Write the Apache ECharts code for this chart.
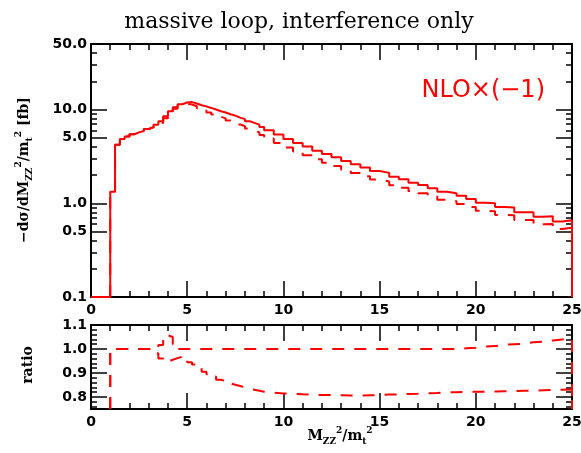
<!DOCTYPE html>
<html>
<head>
<meta charset="utf-8">
<script src="https://cdn.jsdelivr.net/npm/echarts@6/dist/echarts.min.js"></script>
<style>
html, body { margin: 0; padding: 0; background: #fff; }
#chart { width: 581px; height: 453px; }
</style>
</head>
<body>
<div id="chart"></div>
<script>
// bin edges in M_ZZ^2/m_t^2 (0.25 wide up to 9, 0.5 wide after)
const edges = [1, 1.25, 1.5, 1.75, 2, 2.25, 2.5, 2.75, 3, 3.25, 3.5, 3.75, 4, 4.25, 4.5, 4.75,
  5, 5.25, 5.5, 5.75, 6, 6.25, 6.5, 6.75, 7, 7.25, 7.5, 7.75, 8, 8.25, 8.5, 8.75, 9,
  9.5, 10, 10.5, 11, 11.5, 12, 12.5, 13, 13.5, 14, 14.5, 15, 15.5, 16, 16.5, 17,
  17.5, 18, 18.5, 19, 19.5, 20, 20.5, 21, 21.5, 22, 22.5, 23, 23.5, 24, 24.5, 25];

// -dsigma/dM^2 [fb], NLO x (-1), solid curve
const nloSolid = [1.33, 4.2, 4.85, 5.15, 5.45, 5.7, 5.9, 6.2, 6.5, 6.9, 7.5, 8.5, 9.6, 10.6, 11.4, 11.9,
  12.0, 11.6, 11.1, 10.8, 10.4, 10.0, 9.6, 9.3, 8.9, 8.6, 8.2, 7.9, 7.5, 7.2, 6.9, 6.5,
  6.0, 5.4, 4.85, 4.4, 4.02, 3.64, 3.36, 3.10, 2.83, 2.61, 2.40, 2.21, 2.11, 1.92, 1.80, 1.66,
  1.57, 1.45, 1.33, 1.28, 1.20, 1.11, 1.01, 1.0, 0.91, 0.90, 0.80, 0.80, 0.72, 0.725, 0.64, 0.66];

// dashed curve
const nloDashed = [1.33, 4.2, 4.85, 5.15, 5.45, 5.7, 5.9, 6.2, 6.47, 6.78, 7.2, 8.05, 9.17, 10.2, 11.0, 11.5,
  11.3, 10.85, 10.3, 9.77, 9.3, 8.85, 8.37, 8.05, 7.63, 7.32, 6.94, 6.64, 6.26, 5.98, 5.7, 5.34,
  4.91, 4.40, 3.94, 3.57, 3.26, 2.94, 2.71, 2.50, 2.28, 2.10, 1.94, 1.79, 1.71, 1.56, 1.46, 1.35,
  1.28, 1.18, 1.09, 1.05, 0.985, 0.912, 0.83, 0.823, 0.75, 0.743, 0.661, 0.662, 0.596, 0.601, 0.531, 0.548];

// ratio panel
const ratioUpper = [1, 1, 1, 1, 1, 1, 1, 1, 1, 1, 1.017, 1.057, 1.05, 1.02, 1, 1,
  1, 1, 1, 1, 1, 1, 1, 1, 1, 1, 1, 1, 1, 1, 1, 1,
  1, 1, 1, 1, 1, 1, 1, 1, 1, 1, 1, 1, 1, 1, 1, 1,
  1, 1, 1, 1, 1.003, 1.005, 1.01, 1.012, 1.018, 1.02, 1.022, 1.028, 1.03, 1.035, 1.04, 1.045];
const ratioLower = [1, 1, 1, 1, 1, 1, 1, 1, 0.995, 0.982, 0.96, 0.947, 0.955, 0.962, 0.968, 0.97,
  0.945, 0.935, 0.926, 0.905, 0.895, 0.885, 0.872, 0.866, 0.857, 0.851, 0.846, 0.84, 0.834, 0.83, 0.826, 0.822,
  0.818, 0.815, 0.813, 0.811, 0.81, 0.808, 0.808, 0.807, 0.806, 0.806, 0.807, 0.808, 0.81, 0.811, 0.813, 0.814,
  0.816, 0.817, 0.819, 0.82, 0.821, 0.822, 0.822, 0.823, 0.824, 0.825, 0.826, 0.827, 0.828, 0.829, 0.83, 0.831];

// tick positions
const yTopLabels = [0.1, 0.5, 1, 5, 10, 50];
const yTopMinor = [0.2, 0.3, 0.4, 0.6, 0.7, 0.8, 0.9, 2, 3, 4, 6, 7, 8, 9, 20, 30, 40];
const yRatioLabels = [0.8, 0.9, 1.0, 1.1];
const yRatioMinor = [0.76, 0.78, 0.82, 0.84, 0.86, 0.88, 0.92, 0.94, 0.96, 0.98, 1.02, 1.04, 1.06, 1.08];

const RED = '#ff0000';
const lineBlack = { color: '#000', width: 2 };
const tickBlack = { color: '#000', width: 1.5 };
const labelFont = { color: '#000', fontFamily: 'DejaVu Sans', fontWeight: 'bold', fontSize: 14 };

// histogram outline as step points
function steps(vals, floor, from) {
  const pts = [];
  if (from !== undefined) pts.push([from, floor]);
  pts.push([edges[0], floor]);
  vals.forEach((v, i) => {
    pts.push([edges[i], v], [edges[i + 1], v]);
  });
  pts.push([edges[edges.length - 1], floor]);
  return pts;
}

function xAx(gridIndex, position, showLabel) {
  return {
    type: 'value', gridIndex, position, min: 0, max: 25, interval: 5,
    axisLine: { show: true, onZero: false, lineStyle: lineBlack },
    axisTick: { show: true, inside: true, length: 16, lineStyle: tickBlack },
    minorTick: { show: true, splitNumber: 5, length: 6, lineStyle: tickBlack },
    axisLabel: Object.assign({ show: showLabel, margin: 6, showMinLabel: true, showMaxLabel: true }, labelFont),
    splitLine: { show: false }, minorSplitLine: { show: false }
  };
}

function yAx(gridIndex, type, min, max, position, ticks, len, labels, fmt) {
  return {
    type, gridIndex, position, min, max,
    axisLine: { show: len > 10, onZero: false, lineStyle: lineBlack },
    axisTick: { show: true, inside: true, length: len, customValues: ticks, lineStyle: tickBlack },
    axisLabel: labels
      ? Object.assign({ show: true, margin: 4, customValues: labels, formatter: fmt }, labelFont)
      : { show: false },
    splitLine: { show: false }, minorTick: { show: false }
  };
}

const fmt1 = v => Number(v).toFixed(1);

const subSup = {
  n: { fontFamily: 'DejaVu Serif', fontWeight: 'bold', fontSize: 14, lineHeight: 20 },
  sub: { fontFamily: 'DejaVu Serif', fontWeight: 'bold', fontSize: 9, verticalAlign: 'bottom', lineHeight: 20 },
  sup: { fontFamily: 'DejaVu Serif', fontWeight: 'bold', fontSize: 9, verticalAlign: 'top', lineHeight: 20 }
};

const chart = echarts.init(document.getElementById('chart'));
chart.setOption({
  animation: false,
  backgroundColor: '#fff',
  grid: [
    { left: 91, top: 44, width: 481, height: 253, outerBoundsMode: 'none' },
    { left: 91, top: 325, width: 481, height: 84, outerBoundsMode: 'none' }
  ],
  xAxis: [
    xAx(0, 'bottom', true),
    xAx(0, 'top', false),
    xAx(1, 'bottom', true),
    xAx(1, 'top', false)
  ],
  yAxis: [
    yAx(0, 'log', 0.1, 50, 'left', yTopLabels, 16, yTopLabels, fmt1),
    yAx(0, 'log', 0.1, 50, 'right', yTopLabels, 16),
    yAx(0, 'log', 0.1, 50, 'left', yTopMinor, 6),
    yAx(0, 'log', 0.1, 50, 'right', yTopMinor, 6),
    yAx(1, 'value', 0.75, 1.1, 'left', yRatioLabels, 16, yRatioLabels, fmt1),
    yAx(1, 'value', 0.75, 1.1, 'right', yRatioLabels, 16),
    yAx(1, 'value', 0.75, 1.1, 'left', yRatioMinor, 6),
    yAx(1, 'value', 0.75, 1.1, 'right', yRatioMinor, 6)
  ],
  series: [
    {
      name: 'NLO solid', type: 'line', xAxisIndex: 0, yAxisIndex: 0,
      data: steps(nloSolid, 0.1, 0), symbol: 'none', color: RED,
      lineStyle: { color: RED, width: 2 }, z: 5
    },
    {
      name: 'NLO dashed', type: 'line', xAxisIndex: 0, yAxisIndex: 0,
      data: steps(nloDashed, 0.1), symbol: 'none', color: RED,
      lineStyle: { color: RED, width: 2, type: [12, 10] }, z: 5
    },
    {
      name: 'ratio upper', type: 'line', xAxisIndex: 2, yAxisIndex: 4,
      data: steps(ratioUpper, 0.75), symbol: 'none', color: RED,
      lineStyle: { color: RED, width: 2, type: [12, 10] }, z: 5
    },
    {
      name: 'ratio lower', type: 'line', xAxisIndex: 2, yAxisIndex: 4,
      data: steps(ratioLower, 0.75), symbol: 'none', color: RED,
      lineStyle: { color: RED, width: 2, type: [12, 10] }, z: 5
    }
  ],
  graphic: [
    {
      type: 'text', x: 299, y: 22,
      style: { text: 'massive loop, interference only', font: '22px "DejaVu Serif"', fill: '#000', align: 'center', verticalAlign: 'middle' }
    },
    {
      type: 'text', x: 545, y: 91,
      style: { text: 'NLO×(−1)', font: '24px "DejaVu Sans"', fill: RED, align: 'right', verticalAlign: 'middle' }
    },
    {
      type: 'text', x: 24, y: 170, rotation: Math.PI / 2,
      style: {
        text: '{n|−dσ/dM}{sub|ZZ}{sup|2}{n|/m}{sub|t}{sup|2}{n| [fb]}',
        align: 'center', verticalAlign: 'middle', fill: '#000', rich: subSup
      }
    },
    {
      type: 'text', x: 28, y: 365, rotation: Math.PI / 2,
      style: { text: 'ratio', font: 'bold 14px "DejaVu Serif"', fill: '#000', align: 'center', verticalAlign: 'middle' }
    },
    {
      type: 'text', x: 340, y: 436,
      style: {
        text: '{n|M}{sub|ZZ}{sup|2}{n|/m}{sub|t}{sup|2}',
        align: 'center', verticalAlign: 'middle', fill: '#000', rich: subSup
      }
    }
  ]
});
</script>
</body>
</html>
